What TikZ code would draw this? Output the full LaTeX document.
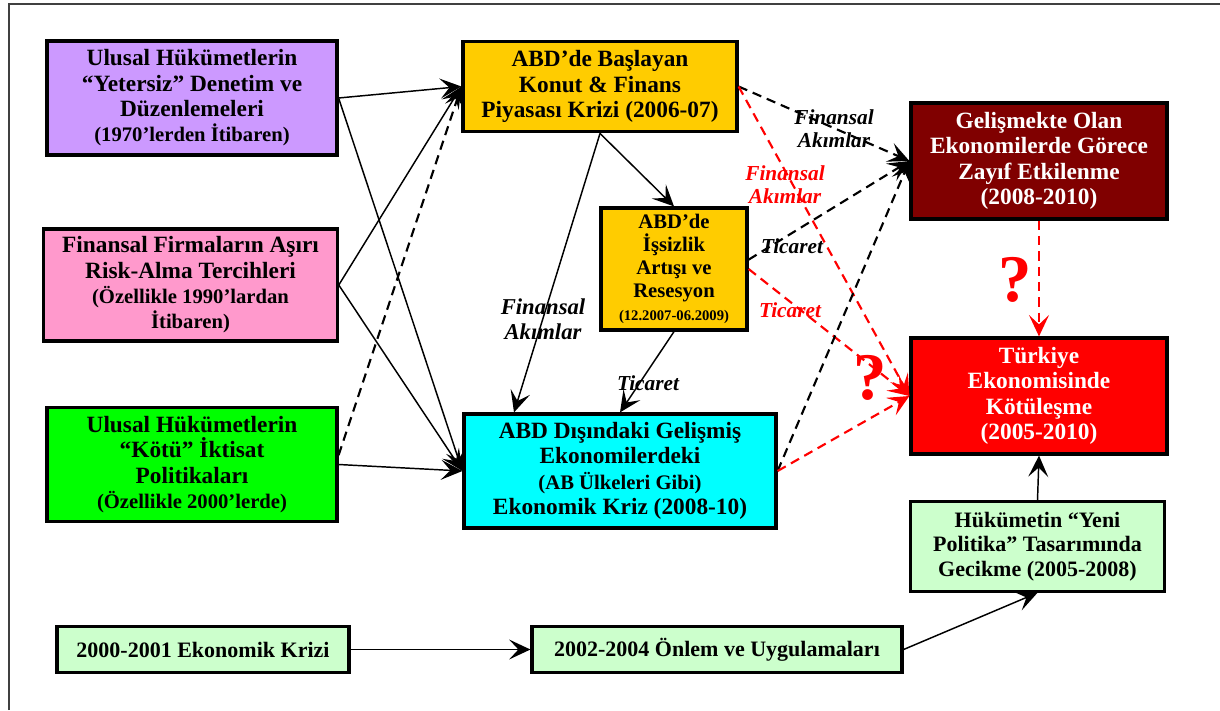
\documentclass[tikz,border=0pt]{standalone}
\usepackage{fontspec}
\setmainfont{Liberation Serif}
\usetikzlibrary{arrows.meta}

\definecolor{lilac}{HTML}{CC99FF}
\definecolor{rose}{HTML}{FF99CC}
\definecolor{grass}{HTML}{00FF00}
\definecolor{amber}{HTML}{FFCC00}
\definecolor{aqua}{HTML}{00FFFF}
\definecolor{maroon}{HTML}{800000}
\definecolor{mint}{HTML}{CCFFCC}

\newcommand{\mainsz}{\fontsize{17.5}{19}\selectfont}
\newcommand{\subsz}{\fontsize{15.5}{18}\selectfont}
\newcommand{\midsz}{\fontsize{16.5}{18.4}\selectfont}
\newcommand{\tinysz}{\fontsize{11}{13}\selectfont}
\newcommand{\lblsz}{\fontsize{16}{17.5}\selectfont}

\tikzset{
  boxnode/.style={draw, line width=2.4pt, align=center, font=\mainsz\bfseries, inner sep=2pt},
  link/.style={-{Stealth[length=16pt,width=15pt,inset=7pt]}, line width=1.1pt},
  dlink/.style={link, line width=1.6pt, dash pattern=on 7pt off 4.5pt},
  rlink/.style={dlink, red},
  lbl/.style={font=\lblsz\bfseries\itshape, align=center},
  qmark/.style={font=\fontsize{50}{52}\selectfont\bfseries, text=red},
}

\begin{document}
\begin{tikzpicture}[x=0.75pt,y=-0.75pt]
\useasboundingbox (0,0) rectangle (1220,710);
\draw[line width=1.5pt, black!75] (9,710) -- (9,4) -- (1220,4);

% left column
\node[boxnode, fill=lilac, minimum width=217.5pt, minimum height=85.5pt] (regul) at (192,98)
  {Ulusal Hükümetlerin\\“Yetersiz” Denetim ve\\Düzenlemeleri\\{\subsz (1970’lerden İtibaren)}};
\node[boxnode, fill=rose, minimum width=220pt, minimum height=84pt] (risk) at (190.5,285)
  {Finansal Firmaların Aşırı\\Risk-Alma Tercihleri\\{\subsz (Özellikle 1990’lardan}\\{\subsz İtibaren)}};
\node[boxnode, fill=grass, minimum width=217.5pt, minimum height=86pt] (kotu) at (192,464.5)
  {Ulusal Hükümetlerin\\“Kötü” İktisat\\Politikaları\\{\subsz (Özellikle 2000’lerde)}};

% middle column
\node[boxnode, fill=amber, minimum width=205.5pt, minimum height=68pt] (konut) at (600,86.5)
  {ABD’de Başlayan\\Konut \& Finans\\Piyasası Krizi (2006-07)};
\node[boxnode, fill=amber, minimum width=109.5pt, minimum height=91.5pt,
  font=\fontsize{15.5}{17.2}\selectfont\bfseries] (issiz) at (674,269)
  {ABD’de\\İşsizlik\\Artışı ve\\Resesyon\\{\tinysz (12.2007-06.2009)}};
\node[boxnode, fill=aqua, minimum width=234pt, minimum height=85.5pt] (gelis) at (620,471)
  {ABD Dışındaki Gelişmiş\\Ekonomilerdeki\\{\subsz (AB Ülkeleri Gibi)}\\Ekonomik Kriz (2008-10)};

% right column
\node[boxnode, fill=maroon, text=white, minimum width=192pt, minimum height=87pt] (zayif) at (1039,161)
  {Gelişmekte Olan\\Ekonomilerde Görece\\Zayıf Etkilenme\\(2008-2010)};
\node[boxnode, fill=red, text=white, minimum width=192pt, minimum height=87pt] (turk) at (1039,396)
  {Türkiye\\Ekonomisinde\\Kötüleşme\\(2005-2010)};
\node[boxnode, fill=mint, font=\midsz\bfseries, minimum width=191pt, minimum height=67pt] (gecik) at (1037.5,546.5)
  {Hükümetin “Yeni\\Politika” Tasarımında\\Gecikme (2005-2008)};

% bottom row
\node[boxnode, fill=mint, font=\midsz\bfseries, minimum width=219pt, minimum height=35pt] (kriz) at (203,649.5)
  {2000-2001 Ekonomik Krizi};
\node[boxnode, fill=mint, font=\midsz\bfseries, minimum width=277.5pt, minimum height=35pt] (onlem) at (717,649.5)
  {2002-2004 Önlem ve Uygulamaları};

% connectors
\draw[link] (regul.east) -- (konut.west);
\draw[link] (regul.east) -- (gelis.west);
\draw[link] (risk.east) -- (konut.west);
\draw[link] (risk.east) -- (gelis.west);
\draw[dlink] ([yshift=7pt]kotu.east) -- (konut.west);
\draw[link] (kotu.east) -- (gelis.west);
\draw[link] (konut.south) -- (issiz.north);
\draw[link] (konut.south) -- ([xshift=-79.5pt]gelis.north);
\draw[link] (issiz.south) -- (gelis.north);
\draw[dlink] (konut.east) -- (zayif.west);
\draw[rlink] (konut.east) -- (turk.west);
\draw[dlink] ([yshift=7pt]issiz.east) -- (zayif.west);
\draw[rlink] (issiz.east) -- (turk.west);
\draw[dlink] (gelis.east) -- (zayif.west);
\draw[rlink] (gelis.east) -- (turk.west);
\draw[rlink] (zayif.south) -- (turk.north);
\draw[link] (gecik.north) -- (turk.south);
\draw[link] (onlem.east) -- (gecik.south);
\draw[link] (kriz.east) -- (onlem.west);

% labels
\node[lbl] (fa1) at (834,129) {Finansal\\Akımlar};
\node[lbl, text=red] (fa2) at (785,185) {Finansal\\Akımlar};
\node[lbl] (tc1) at (792,246) {Ticaret};
\node[lbl, text=red] (tc2) at (790,310) {Ticaret};
\node[lbl, font=\fontsize{17}{19}\selectfont\bfseries\itshape] (fa3) at (543,319) {Finansal\\Akımlar};
\node[lbl] (tc3) at (648,383) {Ticaret};
\node[qmark] (q1) at (1015,280) {?};
\node[qmark] (q2) at (870,378) {?};
\end{tikzpicture}
\end{document}
